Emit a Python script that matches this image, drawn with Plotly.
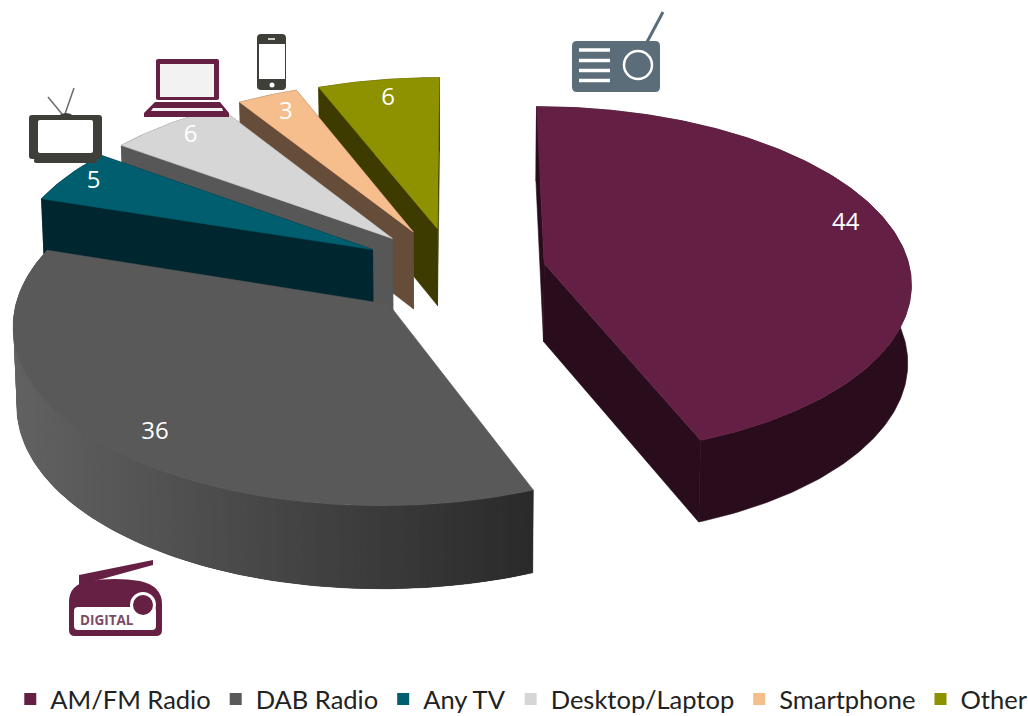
import numpy as np
import plotly.graph_objects as go

# ---------- data ----------
categories = ["AM/FM Radio", "DAB Radio", "Any TV", "Desktop/Laptop", "Smartphone", "Other"]
values = [44, 36, 5, 6, 3, 6]

# ---------- style ----------
top_colors = ["#642044", "#595959", "#005e6e", "#d6d6d6", "#f6bd8d", "#8e9100"]
wall_colors = ["#2a0d1d", "#595959", "#00272f", "#575757", "#664d3a", "#3d3b00"]
explode = [0.229, 0.275, 0.275, 0.275, 0.275, 0.275]
x_nudge = [0.006, -0.002, 0.003, 0, -0.006, -0.012]
y_nudge = [0, 0.012, 0, -0.01, -0.015, -0.02]
draw_order = [5, 4, 3, 2, 1, 0]      # back to front
label_r = [0.885, 0.875, 0.912, 0.89, 0.864, 0.859]
label_frac = [0.47, 0.482, 0.5, 0.5, 0.5, 0.52]

# perspective camera of the 3-D pie (pixels)
CX, CY, RX, RY, PERSP, DEPTH, XSHRINK = 460.0, 271.0, 366.0, 174.0, 0.10, 78.0, 0.992


def project(X, Y, z=0.0):
    w = 1 + PERSP * np.asarray(Y)
    sx = CX + RX * np.asarray(X) / w * (1 - (1 - XSHRINK) * z)
    sy = CY - RY * np.asarray(Y) / w + DEPTH * z / np.sqrt(w)
    return sx, sy


def lerp_grey(t):
    v = int(round(0x62 + (0x2a - 0x62) * t))
    return f"rgb({v},{v},{v})"


total = sum(values)
edges = np.cumsum([0] + values) / total * 2 * np.pi
fig = go.Figure()

for name, col in zip(categories, top_colors):
    fig.add_trace(go.Scatter(x=[None], y=[None], mode="markers", name=name,
                             marker=dict(symbol="square", size=16, color=col), hoverinfo="skip"))


def poly(xs, ys, color, lw=0.6):
    xs, ys = list(xs), list(ys)
    fig.add_trace(go.Scatter(x=xs + [xs[0]], y=ys + [ys[0]], mode="lines", fill="toself",
                             fillcolor=color, line=dict(color=color, width=lw),
                             showlegend=False, hoverinfo="skip"))


label_x, label_y, label_t = [], [], []
for i in draw_order:
    a0, a1 = edges[i], edges[i + 1]
    mid = (a0 + a1) / 2
    X0 = explode[i] * np.sin(mid) + x_nudge[i]
    Y0 = explode[i] * np.cos(mid) + y_nudge[i]
    th = np.linspace(a0, a1, max(12, int(values[i] * 4)))
    AX, AY = X0 + np.sin(th), Y0 + np.cos(th)

    tx, ty = project(AX, AY)
    bx, by = project(AX, AY, 1)
    ax_t, ay_t = project(np.array([X0]), np.array([Y0]))
    ax_b, ay_b = project(np.array([X0]), np.array([Y0]), 1)

    # radial walls (the DAB slice shows none)
    if i != 1:
        for e in (0, -1):
            poly([ax_t[0], tx[e], bx[e], ax_b[0]], [ay_t[0], ty[e], by[e], ay_b[0]], wall_colors[i])
    # outer curved wall
    if i == 1:
        poly(np.r_[tx, bx[::-1]], np.r_[ty, by[::-1]], "#444444")
        for k in range(len(th) - 1):
            m = min(k + 2, len(th) - 1)
            c = lerp_grey(np.clip((tx[k] - 12) / (537 - 12), 0, 1))
            poly([tx[k], tx[m], bx[m], bx[k]], [ty[k], ty[m], by[m], by[k]], c, 0)
    else:
        poly(np.r_[tx, bx[::-1]], np.r_[ty, by[::-1]], wall_colors[i])
    # top face
    poly(np.r_[ax_t, tx], np.r_[ay_t, ty], top_colors[i])

    la = a0 + (a1 - a0) * label_frac[i]
    lx, ly = project(np.array([X0 + label_r[i] * np.sin(la)]), np.array([Y0 + label_r[i] * np.cos(la)]))
    label_x.append(lx[0]); label_y.append(ly[0]); label_t.append(str(values[i]))

fig.add_trace(go.Scatter(x=label_x, y=label_y, text=label_t, mode="text", showlegend=False, hoverinfo="skip",
                         textfont=dict(family="Open Sans", size=24, color="white")))


# ---------- icons ----------
def rrect(x0, y0, x1, y1, r):
    return (f"M{x0+r},{y0} L{x1-r},{y0} Q{x1},{y0} {x1},{y0+r} L{x1},{y1-r} Q{x1},{y1} {x1-r},{y1} "
            f"L{x0+r},{y1} Q{x0},{y1} {x0},{y1-r} L{x0},{y0+r} Q{x0},{y0} {x0+r},{y0} Z")


shapes = []


def path(d, fill, line=None, w=0):
    shapes.append(dict(type="path", path=d, fillcolor=fill, line=dict(color=line or fill, width=w)))


def seg(x0, y0, x1, y1, c, w):
    shapes.append(dict(type="line", x0=x0, y0=y0, x1=x1, y1=y1, line=dict(color=c, width=w)))


def circ(cx, cy, r, fill, line=None, w=0):
    shapes.append(dict(type="circle", x0=cx - r, x1=cx + r, y0=cy - r, y1=cy + r, fillcolor=fill,
                       line=dict(color=line or fill, width=w)))


# AM/FM radio
RADIO = "#5a6d78"
seg(647, 42, 663, 12, RADIO, 3)
path(rrect(572, 41, 660, 92, 5), RADIO)
for yy in (50, 60.5, 70.5, 80.5):
    seg(579, yy, 610, yy, "white", 3.5)
circ(638, 65, 14, RADIO, "white", 2.5)

# digital radio
PURPLE = "#662044"
path("M79,575 L153,560 L153,565 L91,582 L79,590 Z", PURPLE)
path("M69,602 Q69,584 90,581 Q115,577 140,581 Q162,586 162,604 L162,630 Q162,636 156,636 L75,636 Q69,636 69,630 Z", PURPLE)
path(rrect(74, 607, 156, 630, 4), "white")
circ(143, 605, 13, "white")
circ(143, 605, 10, PURPLE)

# laptop
path(rrect(156, 59, 219, 100, 2), PURPLE)
path("M160,64 L214,64 L214,97 L160,97 Z", "#f2f2f2")
path("M155,102 L220,102 L229,113 L229,117 L144,117 L144,113 Z", PURPLE)
path("M153,108 L222,108 L223,111 L151,111 Z", "#f2f2f2")

# smartphone
DARK = "#3f3f3a"
path(rrect(257, 34, 286, 90, 4), DARK)
path("M259,44 L285,44 L285,79 L259,79 Z", "white")
circ(272, 85, 2.5, "white")
seg(268, 39, 275, 39, "white", 1.5)

# TV
seg(62, 114, 48, 97, "#6b6b6b", 1.5)
seg(65, 114, 74, 88, "#6b6b6b", 1.5)
path(rrect(29, 115, 102, 159, 3), DARK)
path(rrect(34, 158, 97, 163, 2), DARK)
path("M58,116 Q66,110 74,116 Z", DARK)
path(rrect(38, 120, 93, 153, 2), "white")

fig.update_layout(
    width=1028, height=716, autosize=False,
    margin=dict(l=0, r=0, t=0, b=0, autoexpand=False),
    paper_bgcolor="white", plot_bgcolor="white",
    xaxis=dict(range=[0, 1028], visible=False, fixedrange=True),
    yaxis=dict(range=[716, 0], visible=False, fixedrange=True),
    shapes=shapes,
    annotations=[dict(x=107, y=619.5, text="<b>DIGITAL</b>", showarrow=False, xref="x", yref="y",
                      font=dict(family="Open Sans", size=13.5, color="#7d4a66"))],
    legend=dict(orientation="h", x=0.01, xanchor="left", y=0.023, yanchor="middle", itemsizing="constant",
                font=dict(family="Lato", size=25.5, color="#222222"), bgcolor="rgba(0,0,0,0)"),
)
fig.write_html("out.html", config=dict(displayModeBar=False),
               post_script="document.body.style.margin='0';")
